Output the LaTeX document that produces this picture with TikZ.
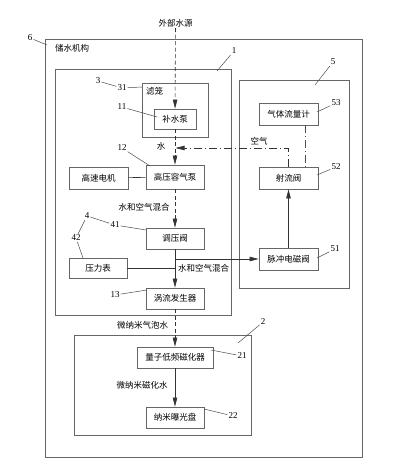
\documentclass[tikz,border=0pt]{standalone}
\usepackage{fontspec}
\setmainfont{Liberation Serif}
\newfontfamily\cjk{Noto Sans CJK SC}
\usetikzlibrary{arrows.meta}

\begin{document}
\begin{tikzpicture}[x=1pt,y=-1pt,
  frame/.style={draw=black!60,line width=0.8pt,inner sep=0pt},
  box/.style={draw=black!60,line width=0.8pt,inner sep=0pt,minimum width=58pt,minimum height=21pt,font=\cjk\fontsize{8.5}{9}\selectfont},
  txt/.style={inner sep=1pt,font=\cjk\fontsize{8.5}{9}\selectfont},
  num/.style={inner sep=1pt,font=\fontsize{9}{10}\selectfont},
  lead/.style={draw=black!70,line width=0.5pt},
  flow/.style={draw=black!80,line width=0.6pt,-{Triangle[length=9pt,width=4.5pt]}},
  dsh/.style={dash pattern=on 4pt off 2.5pt},
  dshdot/.style={dash pattern=on 8pt off 3pt on 1pt off 3pt}]
  \useasboundingbox (0,0) rectangle (409,470);
  % frames
  \node[frame,minimum width=317pt,minimum height=418pt] (f6) at (203.5,248) {};
  \node[frame,minimum width=176pt,minimum height=246pt] (f1) at (143,192) {};
  \node[frame,minimum width=66pt,minimum height=54pt] (f3) at (175,110) {};
  \node[frame,minimum width=110pt,minimum height=208pt] (f5) at (294,184) {};
  \node[frame,minimum width=177pt,minimum height=100pt] (f2) at (162.5,385) {};
  % boxes
  \node[box,minimum width=42pt,minimum height=20pt] (pump) at (175,119) {补水泵};
  \node[box,minimum height=24pt] (hpp) at (175,177) {高压容气泵};
  \node[box,minimum width=59pt,minimum height=22pt] (motor) at (98.5,178) {高速电机};
  \node[box] (reg) at (175,238.5) {调压阀};
  \node[box,minimum height=20pt] (gauge) at (98,268) {压力表};
  \node[box] (vortex) at (175,298.5) {涡流发生器};
  \node[box,minimum width=76pt] (mag) at (175,357.5) {量子低频磁化器};
  \node[box] (disk) at (175,417.5) {纳米曝光盘};
  \node[box,minimum width=59pt,minimum height=22pt] (flowm) at (288.5,114) {气体流量计};
  \node[box,minimum width=59pt,minimum height=22pt] (jet) at (288.5,178) {射流阀};
  \node[box,minimum width=59pt,minimum height=22pt] (pulse) at (288.5,259) {脉冲电磁阀};
  % texts
  \node[txt] (src) at (175.5,23) {外部水源};
  \node[txt] (store) at (72,48) {储水机构};
  \node[txt] (cage) at (154.5,91) {滤笼};
  \node[txt] (water) at (161,146) {水};
  \node[txt] (air) at (259,141) {空气};
  \node[txt] (mixa) at (144,207) {水和空气混合};
  \node[txt] (mixb) at (203.5,268) {水和空气混合};
  \node[txt] (bubble) at (142.5,325) {微纳米气泡水};
  \node[txt] (magw) at (142,385) {微纳米磁化水};
  % flows
  \draw[flow,dsh] (src) -- (pump);
  \draw[flow,dsh] (pump) -- (hpp);
  \draw[flow,dsh] (hpp) -- (reg);
  \draw[flow] (reg) -- (vortex);
  \draw[flow,dsh] (vortex) -- (mag);
  \draw[flow] (mag) -- (disk);
  \draw[draw=black!80,line width=0.6pt] (motor) -- (hpp);
  \draw[draw=black!80,line width=0.6pt] (gauge) -- (gauge -| reg);
  \draw[flow] (pulse -| reg) -- (pulse);
  \draw[flow] (pulse) -- (jet);
  \draw[draw=black!70,line width=0.5pt,dshdot] (flowm.south -| 305,0) -- (jet.north -| 305,0);
  \coordinate (airin) at (175.5,148);
  \draw[flow,dshdot] (jet.north) -- (jet.north |- airin) -- (airin);
  % numbers
  \node[num] (n6) at (30,38) {6};
  \node[num] (n3) at (98,81) {3};
  \node[num] (n31) at (122,88) {31};
  \node[num] (n11) at (122,107) {11};
  \node[num] (n12) at (122,148) {12};
  \node[num] (n1) at (234,51) {1};
  \node[num] (n5) at (333,62) {5};
  \node[num] (n53) at (336,103) {53};
  \node[num] (n52) at (336,167) {52};
  \node[num] (n51) at (335,249) {51};
  \node[num] (n4) at (87,216) {4};
  \node[num] (n41) at (115,225) {41};
  \node[num] (n42) at (76,238) {42};
  \node[num] (n13) at (115,295) {13};
  \node[num] (n2) at (263,322) {2};
  \node[num] (n21) at (242,356) {21};
  \node[num] (n22) at (233,416) {22};
  % leaders
  \draw[lead] (n6) -- (47,45);
  \draw[lead] (n3) -- (n31);
  \draw[lead] (n31) -- (142,87);
  \draw[lead] (n11) -- (157,117);
  \draw[lead] (n12) -- (150,166);
  \draw[lead] (n1) -- (217,71);
  \draw[lead] (n5) -- (315,85);
  \draw[lead] (n53) -- (317,112);
  \draw[lead] (n52) -- (317,175);
  \draw[lead] (n51) -- (317,258);
  \draw[lead] (n4) -- (n41);
  \draw[lead] (n4) -- (n42);
  \draw[lead] (n41) -- (146,230);
  \draw[lead] (n42) -- (83,258);
  \draw[lead] (n13) -- (147,290);
  \draw[lead] (n2) -- (238,343);
  \draw[lead] (n21) -- (211,350);
  \draw[lead] (n22) -- (204,409);
\end{tikzpicture}
\end{document}
